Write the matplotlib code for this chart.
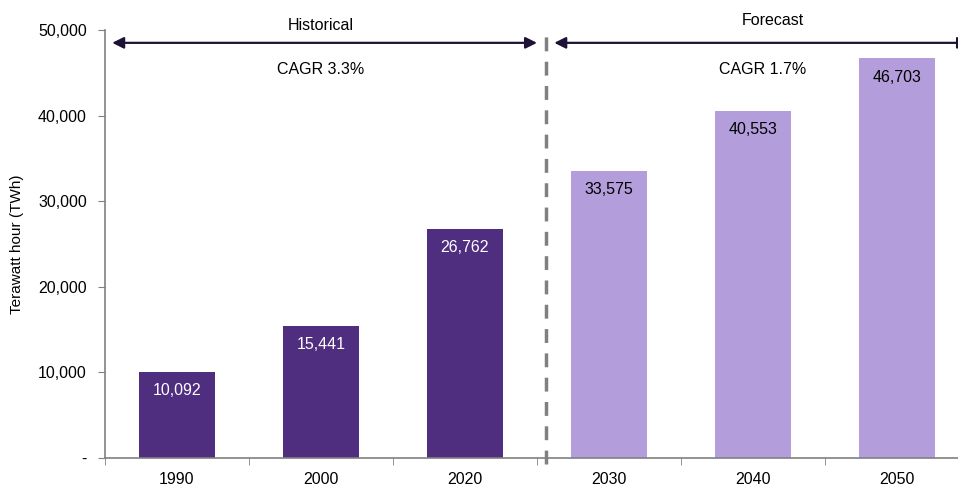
import matplotlib.pyplot as plt
from matplotlib import font_manager
from matplotlib.ticker import FuncFormatter

names = {f.name for f in font_manager.fontManager.ttflist}
fam = 'Liberation Sans Narrow' if 'Liberation Sans Narrow' in names else 'Liberation Sans'
plt.rcParams['font.family'] = [fam, 'DejaVu Sans']

years = ['1990', '2000', '2020', '2030', '2040', '2050']
twh = [10092, 15441, 26762, 33575, 40553, 46703]
historical = [True, True, True, False, False, False]
cagr_hist = 'CAGR 3.3%'
cagr_fore = 'CAGR 1.7%'

dark = '#4f2d7f'
light = '#b39ddb'
axis_grey = '#808080'
arrow_col = '#1e1235'

fig = plt.figure(figsize=(9.58, 4.88), dpi=100)
ax = fig.add_axes([105 / 958, 30 / 488, 864 / 958, 428 / 488])

x = list(range(len(years)))
colors = [dark if h else light for h in historical]
bars = ax.bar(x, twh, width=0.53, color=colors)

for xi, v, h in zip(x, twh, historical):
    ax.text(xi, v - 2200, f'{v:,}', ha='center', va='center', fontsize=11.5,
            color='white' if h else 'black')

ax.set_xlim(-0.5, len(years) - 0.5)
ax.set_ylim(0, 50000)
ax.set_yticks(range(0, 50001, 10000))
ax.yaxis.set_major_formatter(FuncFormatter(lambda v, p: '-' if v == 0 else f'{int(v):,}'))
ax.set_xticks(x)
ax.set_xticklabels(years)
ax.set_xticks([i - 0.5 for i in x], minor=True)
ax.tick_params(axis='x', which='major', length=0, pad=10, labelsize=11.5)
ax.tick_params(axis='x', which='minor', length=5, color=axis_grey, direction='out')
ax.tick_params(axis='y', length=5, color=axis_grey, labelsize=11.5, pad=8)

for side in ('top', 'right'):
    ax.spines[side].set_visible(False)
for side in ('left', 'bottom'):
    ax.spines[side].set_color(axis_grey)
    ax.spines[side].set_linewidth(1.2)

ax.set_ylabel('Terawatt hour (TWh)', fontsize=11, labelpad=10)

# split between history and forecast
split = 2.56
ax.plot([split, split], [-700, 50000], color=axis_grey, lw=2.5,
        linestyle=(0, (4, 3)), clip_on=False, zorder=3)

arrow_y = 48500
ax.annotate('', xy=(-0.45, arrow_y), xytext=(split - 0.06, arrow_y),
            arrowprops=dict(arrowstyle='<|-|>', color=arrow_col, lw=1.6,
                            mutation_scale=17, shrinkA=0, shrinkB=0))
ax.annotate('', xy=(split + 0.06, arrow_y), xytext=(5.5, arrow_y),
            arrowprops=dict(arrowstyle='<|-|>', color=arrow_col, lw=1.6,
                            mutation_scale=17, shrinkA=0, shrinkB=0),
            annotation_clip=False)

ax.text(1.0, 50500, 'Historical', ha='center', va='center', fontsize=11.5)
ax.text(1.0, 45400, cagr_hist, ha='center', va='center', fontsize=11.5)
ax.text(4.14, 51100, 'Forecast', ha='center', va='center', fontsize=11.5, clip_on=False)
ax.text(4.07, 45400, cagr_fore, ha='center', va='center', fontsize=11.5)

fig.savefig('out.png', dpi=100)
